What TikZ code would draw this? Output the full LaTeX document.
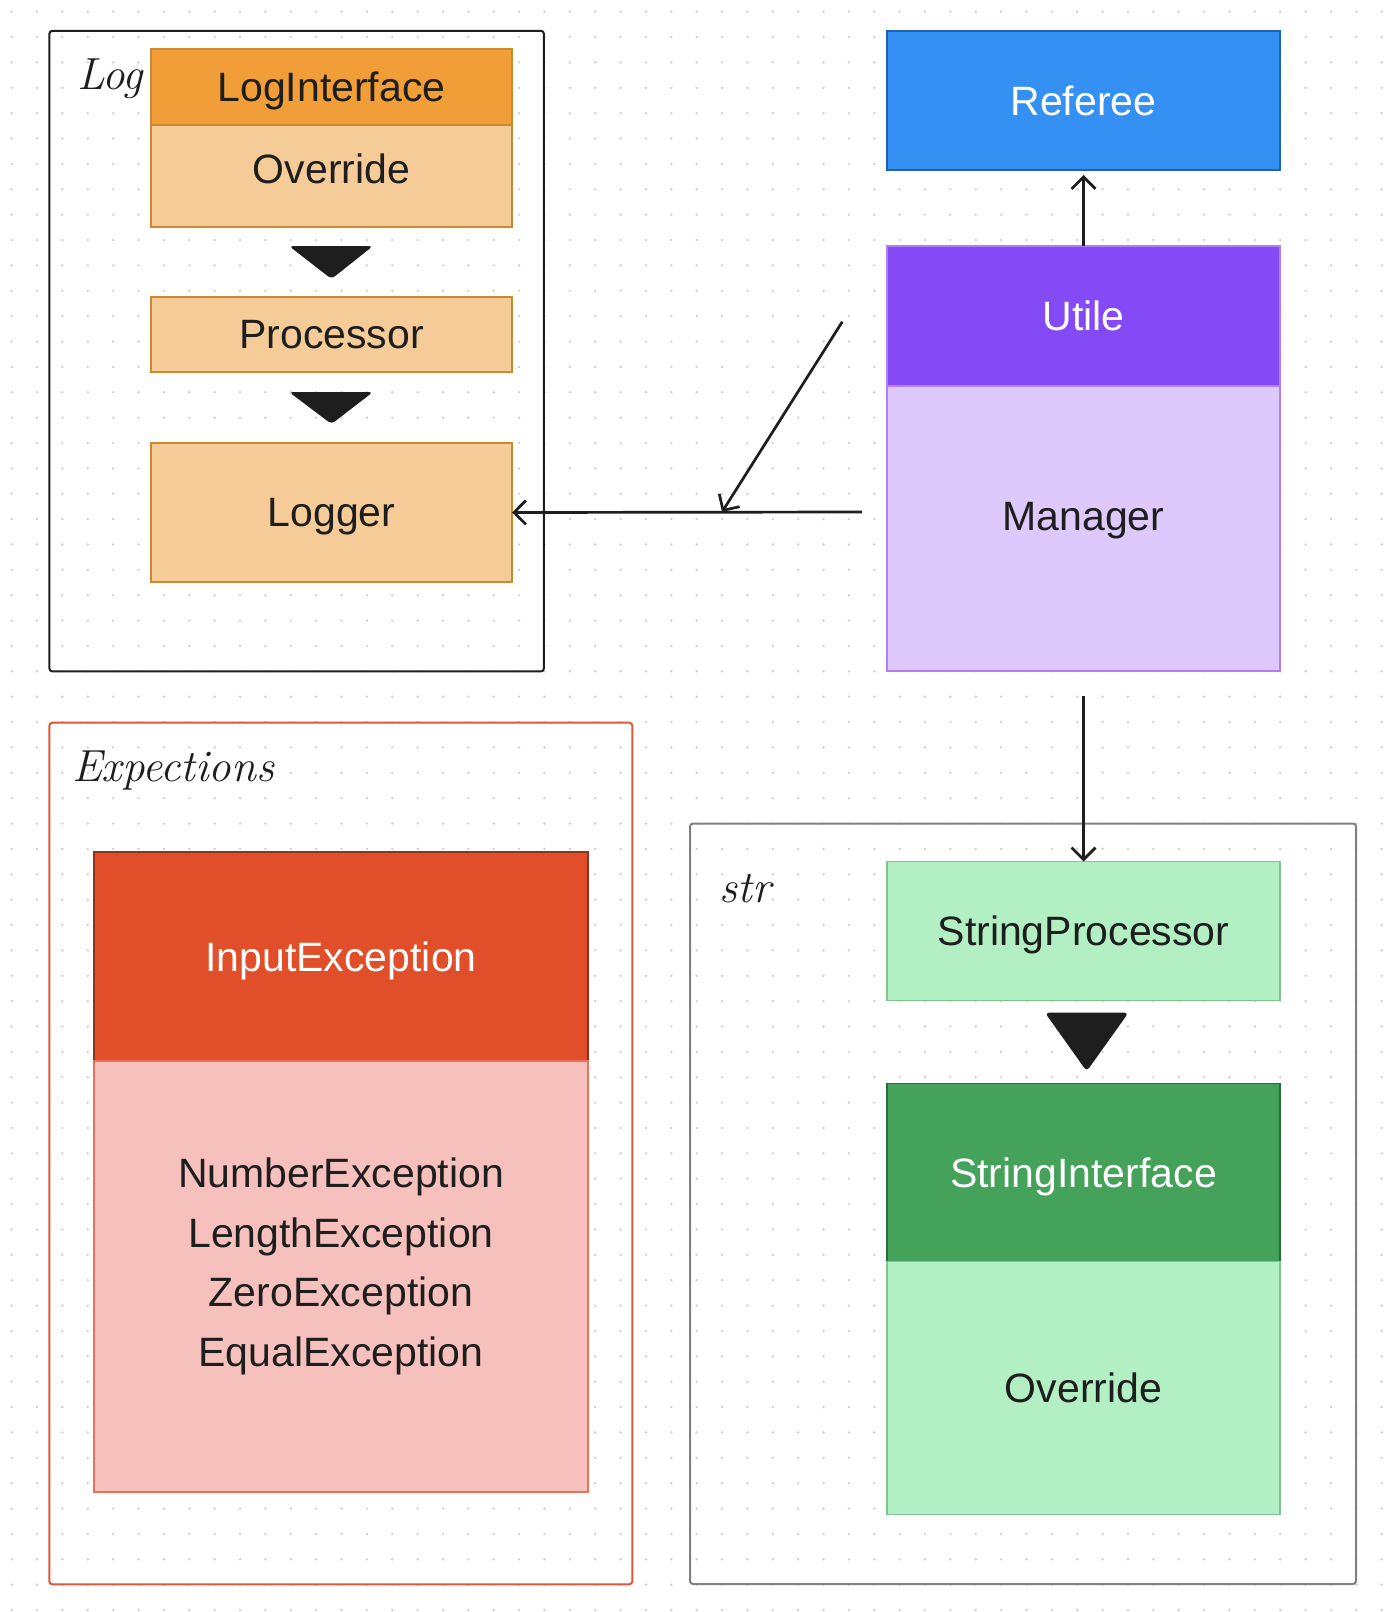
\documentclass[tikz,border=0pt]{standalone}
\usepackage{fontspec}
\setmainfont{Liberation Sans}
\newfontfamily\handfont{Latin Modern Roman}
\usetikzlibrary{
		positioning,
		arrows.meta
	}
\definecolor{ink}{HTML}{1E1E1E}
\definecolor{dotc}{HTML}{CFCFCF}
\definecolor{orhead}{HTML}{F19E39}
\definecolor{orbody}{HTML}{F5CB98}
\definecolor{orline}{HTML}{CC8A30}
\definecolor{bluehead}{HTML}{3590F3}
\definecolor{blueline}{HTML}{2160B3}
\definecolor{purphead}{HTML}{844AF6}
\definecolor{purpbody}{HTML}{DDC9FB}
\definecolor{purpline}{HTML}{B47CF8}
\definecolor{redhead}{HTML}{E04F2A}
\definecolor{redline}{HTML}{8E3320}
\definecolor{redbody}{HTML}{F6C1BC}
\definecolor{redbodyline}{HTML}{E8715C}
\definecolor{excred}{HTML}{E0573A}
\definecolor{grnhead}{HTML}{44A25A}
\definecolor{grnheadline}{HTML}{2E6B3C}
\definecolor{grnbody}{HTML}{B2EFC3}
\definecolor{grnline}{HTML}{80C493}
\definecolor{frgrey}{HTML}{808080}
\tikzset{
		>={Straight Barb[length=12pt,width=24pt]},
		box/.style={draw, rectangle, line width=1.5pt, inner sep=0pt, outer sep=0pt,
			text depth=0pt, font=\fontsize{41}{59.6}\selectfont, text=ink},
		txt/.style={font=\fontsize{41}{59.6}\selectfont, text=ink, inner sep=0pt, text depth=0pt},
		frame/.style={line width=2pt, rounded corners=3pt},
		hand/.style={font=\handfont\itshape\fontsize{45}{50}\selectfont, text=ink},
		conn/.style={line width=2.7pt, draw=ink},
		tri/.style={fill=ink, rounded corners=4pt}
	}

\begin{document}
\begin{tikzpicture}[x=1pt, y=-1pt]
		\useasboundingbox (0,0) rectangle (1388,1612);
		\fill[white] (0,0) rectangle (1388,1612);
		% dotted canvas
		\foreach \i in {0,...,54}
			\foreach \j in {0,...,63}
				\fill[dotc] (11.7+25.37*\i, 11.7+25.37*\j) circle (1.3);

		% frames
		\draw[frame, draw=ink] (49.4,30.8) rectangle (543.9,671.4);
		\draw[frame, draw=excred] (49.4,722.7) rectangle (632.3,1584.3);
		\draw[frame, draw=frgrey] (690,823.5) rectangle (1356,1584);
		\node[hand] (loglbl) at (110,79) {Log};
		\node[hand] (exclbl) at (173,771) {Expections};
		\node[hand] (strlbl) at (745,889) {str};

		% Log
		\node[box, fill=orhead, draw=orline, minimum width=361pt, minimum height=76pt] (logif) at (331.5,87) {LogInterface};
		\node[box, fill=orbody, draw=orline, minimum width=361pt, minimum height=102pt, below=0pt of logif] (logov) {};
		\node[txt] (logovtxt) at (331.5,168.6) {Override};
		\fill[tri] (289,246) -- (373,246) -- (331.5,279) -- cycle;
		\node[box, fill=orbody, draw=orline, minimum width=361pt, minimum height=75pt] (proc) at (331.5,334.5) {Processor};
		\fill[tri] (289,392) -- (373,392) -- (331.5,424) -- cycle;
		\node[box, fill=orbody, draw=orline, minimum width=361pt, minimum height=139pt] (logger) at (331.5,512.5) {Logger};

		% Utile
		\node[box, fill=bluehead, draw=blueline, text=white, minimum width=393pt, minimum height=139pt] (referee) at (1083.5,100.5) {Referee};
		\node[box, fill=purphead, draw=purpline, text=white, minimum width=393pt, minimum height=140pt] (utile) at (1083.5,316) {Utile};
		\node[box, fill=purpbody, draw=purpline, minimum width=393pt, minimum height=285pt, below=0pt of utile] (manager) {};
		\node[txt] (managertxt) at (1083.5,516) {Manager};

		% Expections
		\node[box, fill=redhead, draw=redline, text=white, minimum width=494pt, minimum height=209pt] (inputex) at (341,956.5) {InputException};
		\node[box, fill=redbody, draw=redbodyline, minimum width=494pt, minimum height=431pt, below=0pt of inputex] (excbody) {};
		\node[txt, align=center] (exclist) at (341,1262) {NumberException\\LengthException\\ZeroException\\EqualException};

		% str
		\node[box, fill=grnbody, draw=grnline, minimum width=393pt, minimum height=139pt] (strproc) at (1083.5,931) {StringProcessor};
		\fill[tri] (1045,1012.7) -- (1128.5,1012.7) -- (1086.7,1071.3) -- cycle;
		\node[box, fill=grnhead, draw=grnheadline, text=white, minimum width=393pt, minimum height=178pt] (strif) at (1083.5,1172.5) {StringInterface};
		\node[box, fill=grnbody, draw=grnline, minimum width=393pt, minimum height=253pt, below=0pt of strif] (strov) {Override};

		% connectors
		\coordinate (mgrleft) at (862,512);
		\coordinate (diagtop) at (842.3,321.7);
		\coordinate (diagtip) at (722,512);
		\coordinate (mgrbot) at (1083.5,696);
		\draw[conn, ->, shorten >=5pt] (utile.north) -- (referee.south);
		\draw[conn, ->] (mgrleft) -- (logger.east);
		\draw[conn, ->] (diagtop) -- (diagtip);
		\draw[conn, ->] (mgrbot) -- (strproc.north);
	\end{tikzpicture}
\end{document}
